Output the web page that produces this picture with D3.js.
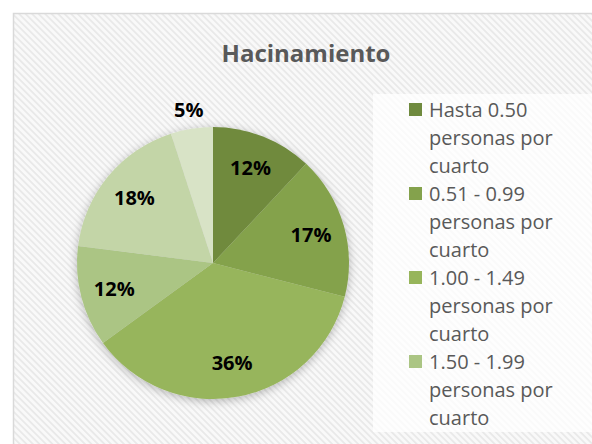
<!DOCTYPE html>
<html>
<head>
<meta charset="utf-8">
<script src="https://cdn.jsdelivr.net/npm/d3@7"></script>
<style>
  body { margin: 0; background: #fff; }
  svg { display: block; font-family: "Open Sans", sans-serif; }
</style>
</head>
<body>
<div id="chart"></div>
<script>
// data
const title = "Hacinamiento";
const categories = [
  "Hasta 0.50 personas por cuarto",
  "0.51 - 0.99 personas por cuarto",
  "1.00 - 1.49 personas por cuarto",
  "1.50 - 1.99 personas por cuarto",
  "2.00 - 2.49 personas por cuarto",
  "2.50 o más personas por cuarto"
];
const values = [12, 17, 36, 12, 18, 5];
const colors = ["#6f8a3e", "#84a24c", "#97b55b", "#abc584", "#c3d5a7", "#d8e3c6"];

const W = 592, H = 444;

const svg = d3.select("#chart")
  .append("svg")
  .attr("width", W)
  .attr("height", H);

const defs = svg.append("defs");

// light diagonal hatch for the chart area
const pat = defs.append("pattern")
  .attr("id", "hatch")
  .attr("patternUnits", "userSpaceOnUse")
  .attr("width", 4.6)
  .attr("height", 4.6)
  .attr("patternTransform", "rotate(45)");
pat.append("rect").attr("width", 4.6).attr("height", 4.6).attr("fill", "#f9f9f9");
pat.append("rect").attr("width", 4.6).attr("height", 1.8).attr("fill", "#e9e9e9");

const shadow = defs.append("filter")
  .attr("id", "shadow")
  .attr("x", "-20%").attr("y", "-20%")
  .attr("width", "140%").attr("height", "140%");
shadow.append("feDropShadow")
  .attr("dx", 0).attr("dy", 2)
  .attr("stdDeviation", 5)
  .attr("flood-color", "#000")
  .attr("flood-opacity", 0.28);

// chart area
svg.append("rect")
  .attr("x", 13.5).attr("y", 13.5)
  .attr("width", 600).attr("height", 450)
  .attr("fill", "url(#hatch)")
  .attr("stroke", "#d9d9d9")
  .attr("stroke-width", 1.5);

svg.append("text")
  .attr("x", 306)
  .attr("y", 62)
  .attr("text-anchor", "middle")
  .attr("font-size", 24)
  .attr("font-weight", "bold")
  .attr("fill", "#595959")
  .text(title);

// pie
const cx = 213, cy = 263, r = 136;
const pie = d3.pie().sort(null).value(d => d);
const arc = d3.arc().innerRadius(0).outerRadius(r);
const labelArc = d3.arc().innerRadius(r * 0.75).outerRadius(r * 0.75);
const outerArc = d3.arc().innerRadius(r + 19).outerRadius(r + 19);

const g = svg.append("g").attr("transform", `translate(${cx},${cy})`);
const arcs = pie(values);

g.append("g")
  .attr("filter", "url(#shadow)")
  .selectAll("path")
  .data(arcs)
  .join("path")
  .attr("d", arc)
  .attr("fill", (d, i) => colors[i]);

g.selectAll("text.lbl")
  .data(arcs)
  .join("text")
  .attr("class", "lbl")
  .attr("transform", d => {
    const p = (d.data < 8 ? outerArc : labelArc).centroid(d);
    return `translate(${p[0]},${p[1]})`;
  })
  .attr("text-anchor", "middle")
  .attr("dy", "0.36em")
  .attr("font-size", 20)
  .attr("font-weight", "bold")
  .attr("fill", "#000")
  .text(d => d.data + "%");

// legend (box is too short for all entries, like the original)
const legTop = 94, legBottom = 432;
const leg = svg.append("g");
leg.append("rect")
  .attr("x", 373).attr("y", legTop)
  .attr("width", 230).attr("height", legBottom - legTop)
  .attr("fill", "#fff")
  .attr("fill-opacity", 0.75);

const lineH = 28, maxW = 140;
let baseY = 117;

// split a label into lines that fit maxW
const measure = leg.append("text").attr("font-size", 20).attr("visibility", "hidden");
function wrap(label) {
  const lines = [];
  let line = [];
  label.split(" ").forEach(w => {
    line.push(w);
    measure.text(line.join(" "));
    if (measure.node().getComputedTextLength() > maxW && line.length > 1) {
      line.pop();
      lines.push(line.join(" "));
      line = [w];
    }
  });
  lines.push(line.join(" "));
  return lines;
}

categories.forEach((c, i) => {
  const lines = wrap(c);
  if (baseY + (lines.length - 1) * lineH > legBottom) return;
  leg.append("rect")
    .attr("x", 409).attr("y", baseY - 14)
    .attr("width", 13).attr("height", 13)
    .attr("fill", colors[i]);
  const t = leg.append("text")
    .attr("font-size", 20)
    .attr("fill", "#595959");
  t.selectAll("tspan")
    .data(lines)
    .join("tspan")
    .attr("x", 429)
    .attr("y", (d, k) => baseY + k * lineH)
    .text(d => d);
  baseY += lines.length * lineH;
});
measure.remove();
</script>
</body>
</html>
